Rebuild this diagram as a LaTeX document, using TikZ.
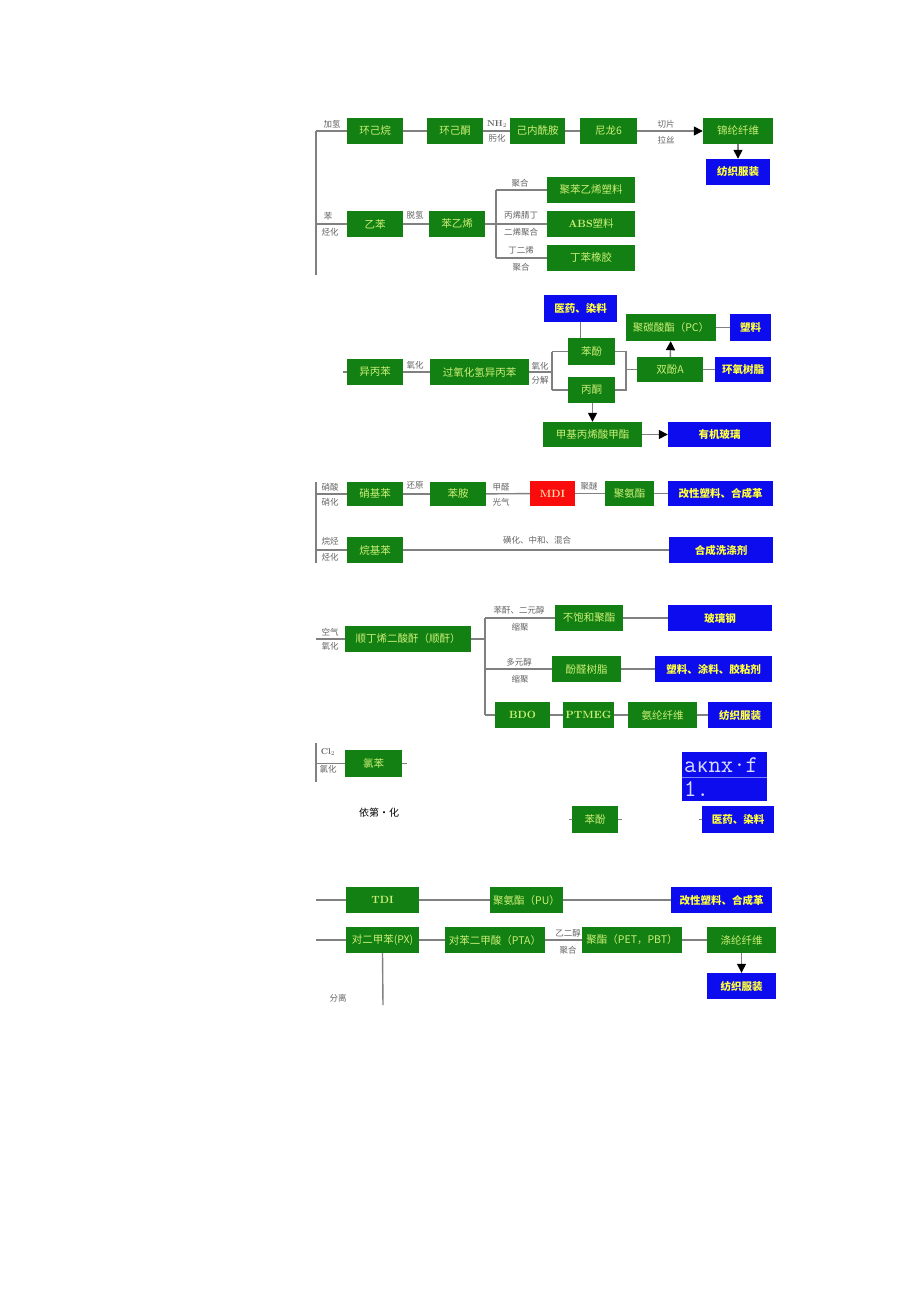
\documentclass[tikz,border=0pt]{standalone}
\usepackage{fontspec}
\newfontfamily\cjk{Noto Sans CJK SC}
\newfontfamily\monof{Liberation Mono}
\usetikzlibrary{arrows.meta}
\definecolor{boxgreen}{RGB}{18,128,18}
\definecolor{gtext}{RGB}{205,240,120}
\definecolor{boxblue}{RGB}{12,12,238}
\definecolor{btext}{RGB}{255,255,60}
\definecolor{boxred}{RGB}{250,12,12}
\definecolor{rtext}{RGB}{255,220,170}
\definecolor{lgray}{RGB}{128,128,128}
\definecolor{labgray}{RGB}{100,100,100}
\definecolor{mtext}{RGB}{215,220,255}
\begin{document}
\begin{tikzpicture}[x=1pt,y=-1pt,
  gbox/.style={fill=boxgreen,draw=none,text=gtext,inner sep=0pt,minimum height=26pt,font=\cjk\fontsize{10.5}{10.5}\selectfont},
  bbox/.style={fill=boxblue,draw=none,text=btext,inner sep=0pt,minimum height=26pt,font=\cjk\bfseries\fontsize{10.5}{10.5}\selectfont},
  rbox/.style={fill=boxred,draw=none,text=rtext,inner sep=0pt,minimum height=26pt,font=\bfseries\fontsize{10.5}{10.5}\selectfont},
  lab/.style={text=labgray,inner sep=0pt,font=\cjk\fontsize{8.5}{8.5}\selectfont},
  conn/.style={draw=lgray,line width=1.4pt},
  arr/.style={draw=lgray,line width=1.4pt,-{Triangle[length=9pt,width=9pt,color=black]}},
  garb/.style={text=black,inner sep=0pt,font=\cjk\fontsize{10}{10}\selectfont}]
\useasboundingbox (0,0) rectangle (920,1301);
\fill[white] (0,0) rectangle (920,1301);

% ---------- block 1 ----------
\node[gbox,minimum width=56pt] (n1) at (375,131) {环己烷};
\node[gbox,minimum width=56pt] (n2) at (455,131) {环己酮};
\node[gbox,minimum width=55pt] (n3) at (537.5,131) {己内酰胺};
\node[gbox,minimum width=57pt] (n4) at (608.5,131) {尼龙6};
\node[gbox,minimum width=70pt] (n5) at (738,131) {锦纶纤维};
\node[bbox,minimum width=64pt] (n6) at (738,172) {纺织服装};
\coordinate (a1) at (316,131);
\coordinate (a2) at (316,275);
\draw[conn] (a1) -- (a2);
\draw[conn] (a1) -- (n1);
\node[lab] (l1) at (332,124) {加氢};
\draw[conn] (n1) -- (n2);
\draw[conn] (n2) -- (n3);
\node[lab,font=\bfseries\fontsize{8.5}{8.5}\selectfont] (l2) at (497,124) {NH$_2$};
\node[lab] (l3) at (497,138) {肟化};
\draw[conn] (n3) -- (n4);
\draw[arr] (n4) -- (n5);
\node[lab] (l4) at (666,124) {切片};
\node[lab] (l5) at (666,140) {拉丝};
\draw[arr] (n5) -- (n6);

% ---------- block 1b ----------
\node[gbox,minimum width=56pt] (m1) at (375,224) {乙苯};
\node[gbox,minimum width=56pt] (m2) at (457,224) {苯乙烯};
\node[gbox,minimum width=88pt] (m3) at (591,190) {聚苯乙烯塑料};
\node[gbox,minimum width=88pt] (m4) at (591,224) {{\bfseries\rmfamily ABS}塑料};
\node[gbox,minimum width=88pt] (m5) at (591,258) {丁苯橡胶};
\coordinate (b0) at (316,224);
\draw[conn] (b0) -- (m1);
\node[lab] (l6) at (328,216) {苯};
\node[lab] (l7) at (330,232) {烃化};
\draw[conn] (m1) -- (m2);
\node[lab] (l8) at (415,215) {脱氢};
\coordinate (b1) at (496,224);
\coordinate (b2) at (496,190);
\coordinate (b3) at (496,258);
\draw[conn] (m2) -- (b1);
\draw[conn] (b2) -- (b3);
\draw[conn] (b2) -- (m3);
\draw[conn] (b1) -- (m4);
\draw[conn] (b3) -- (m5);
\node[lab] (l9) at (520,183) {聚合};
\node[lab] (l10) at (521,215) {丙烯腈丁};
\node[lab] (l11) at (521,232) {二烯聚合};
\node[lab] (l12) at (521,250) {丁二烯};
\node[lab] (l13) at (521,267) {聚合};

% ---------- block 2 ----------
\node[gbox,minimum width=56pt] (p1) at (375,372) {异丙苯};
\node[gbox,minimum width=99pt] (p2) at (479.5,372) {过氧化氢异丙苯};
\node[gbox,minimum width=47pt,minimum height=27pt] (p3) at (591.5,351.5) {苯酚};
\node[gbox,minimum width=47pt] (p4) at (591.5,390) {丙酮};
\node[gbox,minimum width=66pt,minimum height=25pt] (p5) at (670,369.5) {双酚A};
\node[bbox,minimum width=73pt,minimum height=27pt] (p6) at (580.5,308.5) {医药、染料};
\node[gbox,minimum width=90pt,minimum height=27pt] (p7) at (671,327.5) {聚碳酸酯（PC）};
\node[bbox,minimum width=41pt,minimum height=27pt] (p8) at (750.5,327.5) {塑料};
\node[bbox,minimum width=56pt,minimum height=25pt] (p9) at (743,369.5) {环氧树脂};
\node[gbox,minimum width=99pt,minimum height=25pt] (p10) at (592.5,434.5) {甲基丙烯酸甲酯};
\node[bbox,minimum width=103pt,minimum height=25pt] (p11) at (719.5,434.5) {有机玻璃};
\coordinate (c0) at (343,372);
\draw[conn] (c0) -- (p1);
\draw[conn] (p1) -- (p2);
\node[lab] (l14) at (415,365) {氧化};
\coordinate (c1) at (552,372);
\coordinate (c2) at (552,351.5);
\coordinate (c3) at (552,390);
\draw[conn] (p2) -- (c1);
\draw[conn] (c2) -- (c3);
\draw[conn] (c2) -- (p3);
\draw[conn] (c3) -- (p4);
\node[lab] (l15) at (540,366) {氧化};
\node[lab] (l16) at (540,380) {分解};
\coordinate (c4) at (626,351.5);
\coordinate (c5) at (626,390);
\coordinate (c6) at (626,369.5);
\draw[conn] (p3) -- (c4) -- (c5) -- (p4);
\draw[conn] (c6) -- (p5);
\draw[conn] (p6.south) -- (p6.south |- p3.north);
\draw[arr] (p5) -- (p7);
\draw[conn] (p7) -- (p8);
\draw[conn] (p5) -- (p9);
\draw[arr] (p4.south -| p10.north) -- (p10.north);
\draw[arr] (p10) -- (p11);

% ---------- block 3 ----------
\node[gbox,minimum width=56pt,minimum height=24pt] (q1) at (375,494) {硝基苯};
\node[gbox,minimum width=56pt,minimum height=24pt] (q2) at (458,494) {苯胺};
\node[rbox,minimum width=45pt,minimum height=25pt] (q3) at (552.5,493.5) {MDI};
\node[gbox,minimum width=49pt,minimum height=25pt] (q4) at (629.5,493.5) {聚氨酯};
\node[bbox,minimum width=105pt,minimum height=25pt] (q5) at (720.5,493.5) {改性塑料、合成革};
\coordinate (d0) at (316,494);
\coordinate (d1) at (316,482);
\coordinate (d2) at (316,563);
\draw[conn] (d1) -- (d2);
\draw[conn] (d0) -- (q1);
\node[lab] (l17) at (330,487) {硝酸};
\node[lab] (l18) at (330,502) {硝化};
\draw[conn] (q1) -- (q2);
\node[lab] (l19) at (415,485) {还原};
\draw[conn] (q2) -- (q3);
\node[lab] (l20) at (501,487) {甲醛};
\node[lab] (l21) at (501,502) {光气};
\draw[conn] (q3) -- (q4);
\node[lab] (l22) at (589,486) {聚醚};
\draw[conn] (q4) -- (q5);
\node[gbox,minimum width=56pt] (r1) at (375,550) {烷基苯};
\node[bbox,minimum width=104pt] (r2) at (721,550) {合成洗涤剂};
\coordinate (e0) at (316,550);
\draw[conn] (e0) -- (r1);
\node[lab] (l23) at (330,541) {烷烃};
\node[lab] (l24) at (330,557) {烃化};
\draw[conn] (r1) -- (r2);
\node[lab] (l25) at (537,540) {磺化、中和、混合};

% ---------- block 4 ----------
\node[gbox,minimum width=126pt] (s1) at (408,639) {顺丁烯二酸酐（顺酐）};
\node[gbox,minimum width=68pt] (s2) at (589,618) {不饱和聚酯};
\node[bbox,minimum width=104pt] (s3) at (720,618) {玻璃钢};
\node[gbox,minimum width=69pt] (s4) at (586.5,669) {酚醛树脂};
\node[bbox,minimum width=117pt] (s5) at (713.5,669) {塑料、涂料、胶粘剂};
\node[gbox,minimum width=55pt,font=\bfseries\fontsize{10.5}{10.5}\selectfont] (s6) at (522.5,715) {BDO};
\node[gbox,minimum width=51pt,font=\bfseries\fontsize{10.5}{10.5}\selectfont] (s7) at (588.5,715) {PTMEG};
\node[gbox,minimum width=69pt] (s8) at (662.5,715) {氨纶纤维};
\node[bbox,minimum width=64pt] (s9) at (740,715) {纺织服装};
\coordinate (f0) at (316,639);
\draw[conn] (f0) -- (s1);
\node[lab] (l26) at (330,632) {空气};
\node[lab] (l27) at (330,646) {氧化};
\coordinate (f1) at (485,639);
\coordinate (f2) at (485,618);
\coordinate (f3) at (485,669);
\coordinate (f4) at (485,715);
\draw[conn] (s1) -- (f1);
\draw[conn] (f2) -- (f4);
\draw[conn] (f2) -- (s2);
\draw[conn] (f3) -- (s4);
\draw[conn] (f4) -- (s6);
\node[lab] (l28) at (519,610) {苯酐、二元醇};
\node[lab] (l29) at (520,627) {缩聚};
\node[lab] (l30) at (519,662) {多元醇};
\node[lab] (l31) at (520,679) {缩聚};
\draw[conn] (s2) -- (s3);
\draw[conn] (s4) -- (s5);
\draw[conn] (s6) -- (s7);
\draw[conn] (s7) -- (s8);
\draw[conn] (s8) -- (s9);

% ---------- block 5 ----------
\node[gbox,minimum width=57pt,minimum height=27pt] (t1) at (373.5,763.5) {氯苯};
\coordinate (g0) at (316,763.5);
\coordinate (g1) at (316,743);
\coordinate (g2) at (316,782);
\draw[conn] (g1) -- (g2);
\draw[conn] (g0) -- (t1);
\node[lab,font=\bfseries\fontsize{8.5}{8.5}\selectfont] (l32) at (328,752) {Cl$_2$};
\node[lab] (l33) at (328,769) {氯化};
\coordinate (g3) at (407,763.5);
\draw[conn] (t1) -- (g3);
\node[garb] (t5) at (379,813) {依第・化};
\node[gbox,minimum width=46pt,minimum height=27pt] (t2) at (595,819.5) {苯酚};
\coordinate (g4) at (569,819.5);
\coordinate (g5) at (622,819.5);
\draw[conn] (g4) -- (t2);
\draw[conn] (t2) -- (g5);
\node[fill=boxblue,inner sep=0pt,minimum width=85pt,minimum height=49pt] (t3) at (724.5,776.5) {};
\draw[mtext!55!boxblue,line width=0.6pt] (t3.west |- 0,777) -- (t3.east |- 0,777);
\node[text=mtext,inner sep=0pt,anchor=base west,font=\ttfamily\fontsize{24}{24}\selectfont] (t3a) at (684,772) {a{\monof\fontsize{20}{20}\selectfont κ}nx·f};
\node[text=mtext,inner sep=0pt,anchor=base west,font=\ttfamily\fontsize{24}{24}\selectfont] (t3b) at (684,796) {1.};
\node[bbox,minimum width=72pt,minimum height=27pt] (t4) at (738,819.5) {医药、染料};
\coordinate (g6) at (699,819.5);
\draw[conn] (g6) -- (t4);

% ---------- block 6 ----------
\node[gbox,minimum width=73pt,font=\bfseries\fontsize{10.5}{10.5}\selectfont] (u1) at (382.5,900) {TDI};
\node[gbox,minimum width=73pt] (u2) at (526.5,900) {聚氨酯（PU）};
\node[bbox,minimum width=101pt] (u3) at (721.5,900) {改性塑料、合成革};
\node[gbox,minimum width=73pt] (u4) at (382.5,940) {对二甲苯(PX)};
\node[gbox,minimum width=100pt] (u5) at (495,940) {对苯二甲酸（PTA）};
\node[gbox,minimum width=100pt] (u6) at (632,940) {聚酯（PET，PBT）};
\node[gbox,minimum width=69pt] (u7) at (741.5,940) {涤纶纤维};
\node[bbox,minimum width=69pt] (u8) at (741.5,986) {纺织服装};
\coordinate (h0) at (316,900);
\coordinate (h1) at (316,940);
\draw[conn] (h0) -- (u1);
\draw[conn] (u1) -- (u2);
\draw[conn] (u2) -- (u3);
\draw[conn] (h1) -- (u4);
\draw[conn] (u4) -- (u5);
\draw[conn] (u5) -- (u6);
\node[lab] (l34) at (568,933) {乙二醇};
\node[lab] (l35) at (568,950) {聚合};
\draw[conn] (u6) -- (u7);
\draw[arr] (u7) -- (u8);
\coordinate (h2) at (383,1005);
\draw[conn] (u4.south) -- (h2);
\node[lab] (l36) at (338,998) {分离};
\end{tikzpicture}
\end{document}
